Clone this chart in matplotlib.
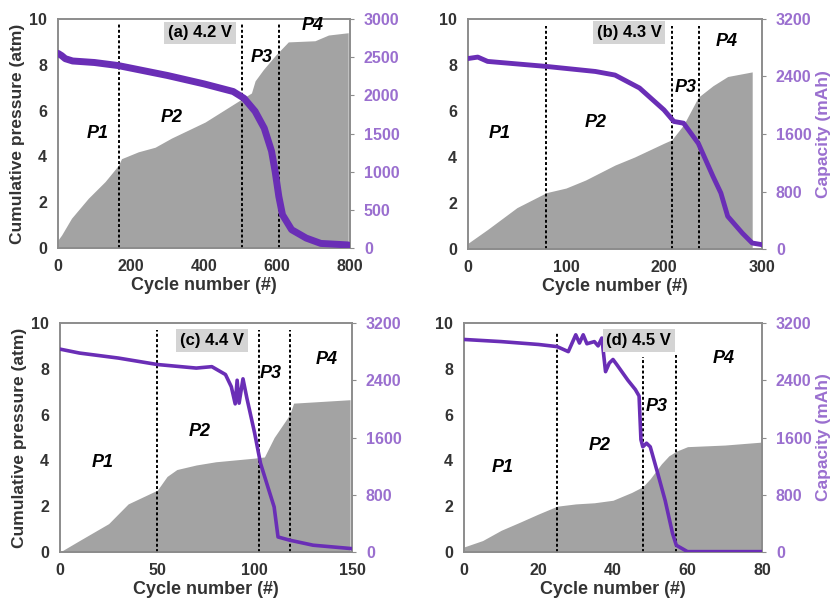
import numpy as np
import matplotlib.pyplot as plt

plt.rcParams['font.family'] = ['Liberation Sans', 'DejaVu Sans']
plt.rcParams['font.weight'] = 'bold'

# (a) 4.2 V
a_px = [0, 10, 37, 83, 129, 165, 174, 220, 266, 311, 357, 403, 448, 503, 530, 540, 563, 595, 613, 631, 704, 741, 795]
a_p = [0.35, 0.57, 1.3, 2.17, 2.9, 3.6, 3.9, 4.2, 4.4, 4.8, 5.15, 5.5, 5.95, 6.5, 6.77, 7.3, 7.8, 8.4, 8.7, 9.0, 9.05, 9.3, 9.4]
a_cx = [0, 10, 20, 40, 100, 165, 300, 400, 480, 510, 540, 565, 585, 595, 605, 615, 640, 680, 720, 795]
a_c = [2550, 2520, 2480, 2450, 2430, 2390, 2260, 2150, 2050, 1960, 1790, 1570, 1270, 1000, 675, 435, 240, 130, 60, 40]

# (b) 4.3 V
b_px = [0, 20, 50, 80, 100, 120, 150, 170, 200, 208, 220, 235, 250, 265, 290]
b_p = [0.25, 0.85, 1.8, 2.45, 2.65, 3.0, 3.65, 4.0, 4.6, 4.75, 5.4, 6.6, 7.1, 7.5, 7.7]
b_cx = [0, 10, 20, 80, 130, 150, 175, 200, 210, 220, 235, 250, 258, 265, 280, 290, 300]
b_c = [2650, 2670, 2610, 2540, 2470, 2420, 2240, 1935, 1775, 1750, 1470, 1010, 780, 455, 220, 83, 60]

# (c) 4.4 V
c_px = [0, 10, 25, 35, 40, 50, 55, 60, 70, 80, 100, 105, 110, 118, 120, 149]
c_p = [0.0, 0.5, 1.24, 2.1, 2.3, 2.7, 3.3, 3.6, 3.8, 3.94, 4.1, 4.15, 5.0, 6.0, 6.5, 6.65]
c_cx = [0, 10, 30, 50, 70, 78, 85, 88, 90, 91, 92, 94, 96, 100, 103, 107, 110, 112, 118, 130, 150]
c_c = [2835, 2780, 2710, 2620, 2570, 2590, 2480, 2310, 2070, 2400, 2080, 2420, 2150, 1660, 1240, 890, 630, 210, 165, 95, 47]

# (d) 4.5 V
d_px = [0, 5, 10, 15, 20, 25, 30, 35, 40, 45, 48, 50, 53, 55, 57, 60, 70, 80]
d_p = [0.22, 0.5, 0.95, 1.3, 1.66, 2.0, 2.1, 2.15, 2.26, 2.6, 2.85, 3.2, 3.85, 4.2, 4.4, 4.6, 4.67, 4.8]
d_cx = [0, 10, 20, 25, 28, 30, 31, 32, 33, 35, 36, 37, 38, 39, 40, 41, 44, 46, 47, 47.5, 48, 49, 50, 52, 54, 56, 57, 60, 80]
d_c = [2970, 2940, 2900, 2870, 2800, 3035, 2920, 3035, 2910, 2940, 2880, 2990, 2520, 2640, 2690, 2620, 2400, 2270, 2180, 1570, 1470, 1520, 1470, 1100, 720, 256, 94, 5, 5]

panels = [
    dict(px=a_px, p=a_p, cx=a_cx, c=a_c, xmax=800, xticks=[0, 200, 400, 600, 800],
         cmax=3000, cstep=500, vlines=[168, 505, 605], vtop=[9.8, 9.8, 9.8], lw=5.0,
         label='(a) 4.2 V', box=(0.486, 0.94),
         plab=[(110, 5.0), (312, 5.7), (559, 8.3), (699, 9.7)],
         rect=(58, 19, 350, 248), left_label=True, right_label=False),
    dict(px=b_px, p=b_p, cx=b_cx, c=b_c, xmax=300, xticks=[0, 100, 200, 300],
         cmax=3200, cstep=800, vlines=[80, 208, 236], vtop=[9.7, 9.7, 9.7], lw=3.5,
         label='(b) 4.3 V', box=(0.548, 0.942),
         plab=[(32, 5.0), (130, 5.5), (222, 7.0), (264, 9.0)],
         rect=(468, 19, 762, 249), left_label=False, right_label=True),
    dict(px=c_px, p=c_p, cx=c_cx, c=c_c, xmax=150, xticks=[0, 50, 100, 150],
         cmax=3200, cstep=800, vlines=[50, 102, 118], vtop=[9.7, 9.7, 9.7], lw=2.6,
         label='(c) 4.4 V', box=(0.52, 0.924),
         plab=[(22, 3.9), (72, 5.25), (108, 7.8), (137, 8.4)],
         rect=(60, 323, 352, 552), left_label=True, right_label=False),
    dict(px=d_px, p=d_p, cx=d_cx, c=d_c, xmax=80, xticks=[0, 20, 40, 60, 80],
         cmax=3200, cstep=800, vlines=[25, 48, 57], vtop=[9.6, 8.5, 8.6], lw=2.6,
         label='(d) 4.5 V', box=(0.587, 0.924),
         plab=[(10.3, 3.7), (36.4, 4.67), (51.7, 6.35), (69.7, 8.47)],
         rect=(464, 323, 762, 552), left_label=False, right_label=True),
]

W, H = 831, 605
fig = plt.figure(figsize=(W / 100, H / 100), dpi=100)

purple = '#6a2eb6'
tick_purple = '#9a6fcf'
gray_fill = '#a3a3a3'
spine_gray = '#8c8c8c'
text_dark = '#333333'

for pnl in panels:
    l, t, r, b = pnl['rect']
    ax = fig.add_axes([l / W, (H - b) / H, (r - l) / W, (b - t) / H])
    ax.fill_between(pnl['px'], pnl['p'], 0, color=gray_fill, lw=0, zorder=1)
    for xv, top in zip(pnl['vlines'], pnl['vtop']):
        ax.plot([xv, xv], [0, top], color='black', ls=(0, (1.5, 1.2)), lw=1.4, zorder=3)
    ax.set_xlim(0, pnl['xmax'])
    ax.set_ylim(0, 10)
    ax.set_xticks(pnl['xticks'])
    ax.set_yticks([0, 2, 4, 6, 8, 10])
    ax.tick_params(axis='both', labelsize=11.5, colors=text_dark, length=0)
    ax.tick_params(axis='x', pad=8)
    ax.tick_params(axis='y', pad=8)
    for s in ax.spines.values():
        s.set_color(spine_gray)
        s.set_linewidth(1.2)
    ax.set_xlabel('Cycle number (#)', fontsize=13, fontweight='bold', color=text_dark, labelpad=2)
    if pnl['left_label']:
        ax.set_ylabel('Cumulative pressure (atm)', fontsize=12.5, fontweight='bold', color=text_dark, labelpad=3)

    ax2 = ax.twinx()
    ax2.plot(pnl['cx'], pnl['c'], color=purple, lw=pnl['lw'], solid_joinstyle='round',
             solid_capstyle='round', zorder=4)
    ax2.set_ylim(0, pnl['cmax'])
    ax2.set_yticks(np.arange(0, pnl['cmax'] + 1, pnl['cstep']))
    ax2.tick_params(axis='y', labelsize=11.5, colors=spine_gray, labelcolor=tick_purple, length=3, pad=7)
    for s in ax2.spines.values():
        s.set_color(spine_gray)
        s.set_linewidth(1.2)
    if pnl['right_label']:
        ax2.set_ylabel('Capacity (mAh)', fontsize=12.5, fontweight='bold', color=tick_purple, labelpad=3)

    ax2.text(pnl['box'][0], pnl['box'][1], pnl['label'], transform=ax.transAxes,
             ha='center', va='center', fontsize=12, fontweight='bold', color='black',
             bbox=dict(boxstyle='square,pad=0.22', fc='#d4d4d4', ec='none'), zorder=6)
    for i, (xv, yv) in enumerate(pnl['plab']):
        ax2.text(xv, yv * pnl['cmax'] / 10, 'P%d' % (i + 1), ha='center', va='center',
                 fontsize=13, fontweight='bold', fontstyle='italic', color='black', zorder=6)

fig.savefig('out.png', dpi=100)
